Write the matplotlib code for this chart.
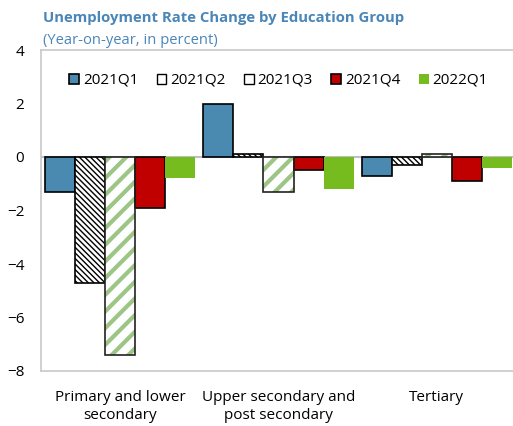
import numpy as np
import matplotlib.pyplot as plt
from matplotlib.patches import Patch

categories = ['Primary and lower\nsecondary', 'Upper secondary and\npost secondary', 'Tertiary']
series = ['2021Q1', '2021Q2', '2021Q3', '2021Q4', '2022Q1']
q1_2021 = [-1.3, 2.0, -0.7]
q2_2021 = [-4.7, 0.1, -0.3]
q3_2021 = [-7.4, -1.3, 0.1]
q4_2021 = [-1.9, -0.5, -0.9]
q1_2022 = [-0.8, -1.2, -0.4]

plt.rcParams['font.family'] = ['Open Sans', 'DejaVu Sans']

fig = plt.figure(figsize=(5.13, 4.26), dpi=100)
ax = fig.add_axes([41 / 513, 1 - 371 / 426, 475 / 513, 321 / 426])

x = np.arange(len(categories))
w = 0.19
offs = (np.arange(5) - 2) * w

# 2021Q1
ax.bar(x + offs[0], q1_2021, w, color='#4a8ab0', edgecolor='black', linewidth=1.2,
       label=series[0], zorder=3)
# 2021Q2 - dense black hatch
plt.rcParams['hatch.linewidth'] = 1.0
ax.bar(x + offs[1], q2_2021, w, color='white', edgecolor='black', hatch='\\' * 6,
       linewidth=1.2, label=series[1], zorder=3)
# 2021Q3 - green stripes, black outline
plt.rcParams['hatch.linewidth'] = 3.0
ax.bar(x + offs[2], q3_2021, w, color='white', edgecolor='#9dc585', hatch='//',
       linewidth=0, zorder=3)
ax.bar(x + offs[2], q3_2021, w, fill=False, edgecolor='#222222', linewidth=1.2, zorder=4)
# 2021Q4
ax.bar(x + offs[3], q4_2021, w, color='#c00000', edgecolor='black', linewidth=1.2,
       label=series[3], zorder=3)
# 2022Q1
ax.bar(x + offs[4], q1_2022, w, color='#77bc1f', linewidth=0, label=series[4], zorder=3)

ax.axhline(0, color='#bfbfbf', linewidth=1.5, zorder=2)

ax.set_ylim(-8, 4)
ax.set_yticks([-8, -6, -4, -2, 0, 2, 4])
ax.set_xlim(-0.5, 2.5)
ax.set_xticks(x)
ax.set_xticklabels(categories, fontsize=11)
ax.tick_params(axis='both', length=0, labelsize=11)
ax.tick_params(axis='y', pad=12)
ax.tick_params(axis='x', pad=14)
for s in ['left', 'bottom', 'top']:
    ax.spines[s].set_color('#c8c8c8')
    ax.spines[s].set_linewidth(1.2)
ax.spines['right'].set_visible(False)

# legend in order of series
handles, labels = ax.get_legend_handles_labels()
q2_handle = Patch(facecolor='white', edgecolor='black', hatch='\\', label=series[1])
q3_handle = Patch(facecolor='white', edgecolor='black', label=series[2])
order = [handles[0], q2_handle, q3_handle, handles[2], handles[3]]
ax.legend(order, series, ncol=5, loc='center', bbox_to_anchor=(0.5, 0.905),
          frameon=False, fontsize=11, handlelength=0.65, handleheight=0.65,
          handletextpad=0.25, columnspacing=1.2)

fig.text(43 / 513, 1 - 18 / 426, 'Unemployment Rate Change by Education Group',
         fontsize=10.7, fontweight='bold', color='#4a86b8', va='center')
fig.text(43 / 513, 1 - 40 / 426, '(Year-on-year, in percent)',
         fontsize=10.6, color='#4a86b8', va='center')

fig.savefig('out.png', dpi=100, facecolor='white')
